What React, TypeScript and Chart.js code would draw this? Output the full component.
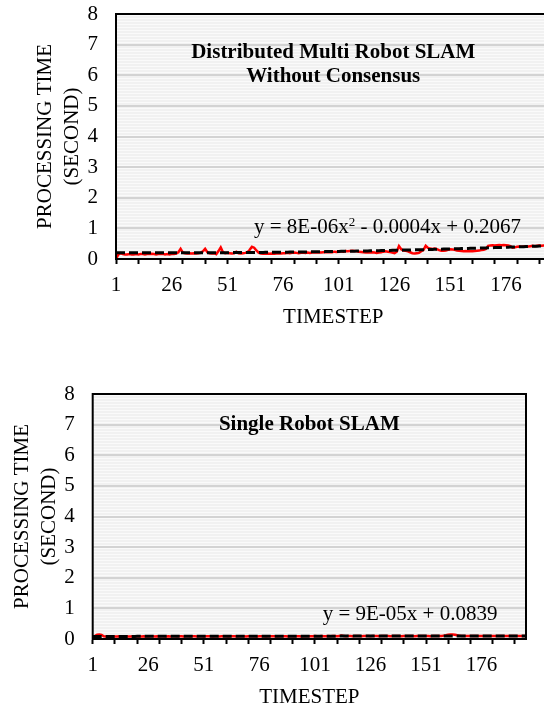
import { useEffect, useRef } from 'react';
import { Chart, registerables } from 'chart.js';

Chart.register(...registerables);

// Timestep categories (1..196) shared by both panels
const timesteps: string[] = Array.from({ length: 196 }, (_, i) => String(i + 1));

// Processing time per timestep (seconds)
const multiRobotTime: number[] = [
  0.00, 0.14, 0.19, 0.16, 0.15, 0.15, 0.16, 0.15, 0.15, 0.16, 0.15, 0.16, 0.16, 0.15, 0.16, 0.16, 0.17, 0.16, 0.15, 0.16,
  0.16, 0.17, 0.15, 0.16, 0.15, 0.16, 0.16, 0.18, 0.22, 0.33, 0.21, 0.19, 0.18, 0.19, 0.18, 0.19, 0.18, 0.19, 0.20, 0.25,
  0.33, 0.22, 0.19, 0.18, 0.19, 0.16, 0.26, 0.38, 0.22, 0.19, 0.20, 0.19, 0.18, 0.19, 0.24, 0.19, 0.18, 0.19, 0.20, 0.22,
  0.30, 0.40, 0.37, 0.28, 0.21, 0.18, 0.17, 0.17, 0.18, 0.17, 0.18, 0.17, 0.18, 0.19, 0.18, 0.19, 0.19, 0.20, 0.19, 0.20,
  0.21, 0.20, 0.19, 0.20, 0.21, 0.20, 0.21, 0.20, 0.21, 0.22, 0.21, 0.22, 0.21, 0.22, 0.23, 0.22, 0.23, 0.22, 0.24, 0.23,
  0.24, 0.25, 0.24, 0.26, 0.25, 0.26, 0.27, 0.26, 0.25, 0.24, 0.23, 0.22, 0.21, 0.22, 0.21, 0.22, 0.21, 0.20, 0.21, 0.22,
  0.24, 0.25, 0.24, 0.23, 0.21, 0.19, 0.24, 0.42, 0.32, 0.28, 0.27, 0.25, 0.22, 0.19, 0.18, 0.19, 0.20, 0.25, 0.30, 0.43,
  0.36, 0.34, 0.33, 0.34, 0.32, 0.29, 0.27, 0.27, 0.28, 0.30, 0.32, 0.31, 0.30, 0.28, 0.27, 0.26, 0.25, 0.26, 0.25, 0.26,
  0.25, 0.26, 0.27, 0.28, 0.29, 0.30, 0.33, 0.43, 0.44, 0.45, 0.44, 0.45, 0.46, 0.45, 0.46, 0.45, 0.44, 0.42, 0.37, 0.38,
  0.40, 0.41, 0.40, 0.41, 0.42, 0.41, 0.42, 0.43, 0.42, 0.43, 0.44, 0.43, 0.44, 0.45, 0.44, 0.45,
];

const singleRobotTime: number[] = [
  0.01, 0.10, 0.14, 0.15, 0.13, 0.09, 0.08, 0.09, 0.08, 0.09, 0.08, 0.08, 0.09, 0.08, 0.08, 0.09, 0.08, 0.08, 0.09, 0.08,
  0.08, 0.09, 0.08, 0.09, 0.08, 0.08, 0.09, 0.09, 0.08, 0.09, 0.08, 0.09, 0.09, 0.08, 0.09, 0.08, 0.09, 0.09, 0.08, 0.09,
  0.09, 0.08, 0.09, 0.09, 0.08, 0.09, 0.09, 0.08, 0.09, 0.09, 0.08, 0.09, 0.09, 0.09, 0.08, 0.09, 0.09, 0.08, 0.09, 0.09,
  0.09, 0.08, 0.09, 0.09, 0.09, 0.08, 0.09, 0.09, 0.09, 0.08, 0.09, 0.09, 0.09, 0.09, 0.08, 0.09, 0.09, 0.09, 0.08, 0.09,
  0.09, 0.09, 0.09, 0.08, 0.09, 0.09, 0.09, 0.09, 0.08, 0.09, 0.09, 0.09, 0.09, 0.09, 0.08, 0.09, 0.09, 0.09, 0.09, 0.09,
  0.10, 0.09, 0.09, 0.10, 0.09, 0.09, 0.10, 0.09, 0.10, 0.10, 0.09, 0.10, 0.11, 0.10, 0.09, 0.10, 0.10, 0.09, 0.10, 0.10,
  0.10, 0.09, 0.10, 0.10, 0.10, 0.09, 0.10, 0.10, 0.10, 0.09, 0.10, 0.10, 0.10, 0.10, 0.09, 0.10, 0.10, 0.10, 0.10, 0.09,
  0.10, 0.10, 0.10, 0.10, 0.10, 0.09, 0.10, 0.10, 0.10, 0.10, 0.10, 0.10, 0.09, 0.10, 0.10, 0.10, 0.10, 0.10, 0.11, 0.12,
  0.14, 0.15, 0.15, 0.14, 0.12, 0.11, 0.10, 0.10, 0.10, 0.10, 0.10, 0.10, 0.10, 0.10, 0.10, 0.10, 0.10, 0.10, 0.10, 0.10,
  0.10, 0.10, 0.10, 0.10, 0.10, 0.10, 0.10, 0.10, 0.10, 0.10, 0.10, 0.10, 0.10, 0.10, 0.10, 0.10,
];

// Fitted trend coefficients, highest power first (x = timestep index)
const multiRobotFit: number[] = [8e-6, -0.0004, 0.2067];
const singleRobotFit: number[] = [9e-5, 0.0839];

const yAxisTitle: string[] = ['PROCESSING TIME', '(SECOND)'];
const xAxisTitle = 'TIMESTEP';

const FONT = "'Liberation Serif', 'Times New Roman', serif";

const evalPoly = (coeffs: number[], x: number) =>
  coeffs.reduce((acc, c) => acc * x + c, 0);

type EqPart = { text: string; sup?: boolean };

interface PanelSetup {
  top: number;
  width: number;
  height: number;
  padLeft: number;
  padRight: number;
  padTop: number;
  xAxisHeight: number;
  xTitlePad: number;
  values: number[];
  fit: number[];
  titleLines: string[];
  titleBaselines: number[];
  equation: EqPart[];
  eqDx: number;
  eqDy: number;
}

const makeDecor = (p: PanelSetup) => ({
  id: 'panelDecor',
  beforeDraw(chart: Chart) {
    const { ctx, chartArea: a } = chart;
    ctx.save();
    ctx.fillStyle = '#f1f1f1';
    ctx.fillRect(a.left, a.top, a.right - a.left, a.bottom - a.top);
    ctx.fillStyle = '#fafafa';
    for (let y = a.top + 1; y < a.bottom; y += 3) {
      ctx.fillRect(a.left, y, a.right - a.left, 1);
    }
    ctx.restore();
  },
  afterDatasetsDraw(chart: Chart) {
    const { ctx, chartArea: a } = chart;
    ctx.save();
    // plot frame
    ctx.strokeStyle = '#000';
    ctx.lineWidth = 2;
    ctx.strokeRect(a.left, a.top, a.right - a.left, a.bottom - a.top);

    // panel title inside the plot
    ctx.fillStyle = '#000';
    ctx.textAlign = 'center';
    ctx.textBaseline = 'alphabetic';
    ctx.font = `bold 21px ${FONT}`;
    const cx = (a.left + a.right) / 2;
    p.titleLines.forEach((line, i) => ctx.fillText(line, cx, a.top + p.titleBaselines[i]));

    // trendline equation
    ctx.textAlign = 'left';
    let x = a.left + p.eqDx;
    const base = a.top + p.eqDy;
    for (const part of p.equation) {
      ctx.font = part.sup ? `13px ${FONT}` : `21px ${FONT}`;
      ctx.fillText(part.text, x, part.sup ? base - 7 : base);
      x += ctx.measureText(part.text).width;
    }
    ctx.restore();
  },
});

const buildConfig = (p: PanelSetup): any => {
  const trend = timesteps.map((_, i) => evalPoly(p.fit, i + 1));
  return {
    type: 'line',
    data: {
      labels: timesteps,
      datasets: [
        {
          label: 'Trend',
          data: trend,
          borderColor: '#000',
          borderWidth: 3,
          borderDash: [9, 4],
          pointRadius: 0,
          tension: 0,
        },
        {
          label: 'Processing time',
          data: p.values,
          borderColor: '#ff0000',
          borderWidth: 2.5,
          pointRadius: 0,
          tension: 0,
        },
      ],
    },
    options: {
      animation: false,
      responsive: false,
      devicePixelRatio: 1,
      layout: { padding: { left: p.padLeft, right: p.padRight, top: p.padTop, bottom: 0 } },
      plugins: {
        legend: { display: false },
        tooltip: { enabled: false },
        title: { display: false },
      },
      scales: {
        x: {
          type: 'category',
          offset: false,
          grid: {
            drawOnChartArea: false,
            drawTicks: true,
            tickLength: 5,
            tickWidth: 2,
            tickColor: (ctx: any) => (ctx.index % 10 === 0 ? '#000' : 'rgba(0,0,0,0)'),
          },
          border: { display: true, color: '#000', width: 2 },
          ticks: {
            autoSkip: false,
            maxRotation: 0,
            minRotation: 0,
            padding: 9,
            color: '#000',
            font: { family: FONT, size: 21 },
            callback: (_v: any, i: number) => (i % 25 === 0 ? timesteps[i] : ''),
          },
          title: {
            display: true,
            text: xAxisTitle,
            color: '#000',
            font: { family: FONT, size: 21, lineHeight: 1 },
            padding: { top: 0, bottom: p.xTitlePad },
          },
          afterFit: (s: any) => {
            s.height = p.xAxisHeight;
            s.paddingLeft = 0;
            s.paddingRight = 0;
          },
        },
        y: {
          min: 0,
          max: 8,
          ticks: {
            stepSize: 1,
            padding: 18,
            color: '#000',
            font: { family: FONT, size: 21 },
          },
          grid: { drawTicks: false, color: '#d3d3d3', lineWidth: 2 },
          border: { display: false },
          title: {
            display: true,
            text: yAxisTitle,
            color: '#000',
            font: { family: FONT, size: 21, lineHeight: 1.29 },
            padding: { top: 9, bottom: 0 },
          },
          afterFit: (s: any) => {
            s.width = 92.7;
            s.paddingTop = 0;
            s.paddingBottom = 0;
          },
        },
      },
    },
    plugins: [makeDecor(p)],
  };
};

const panels: PanelSetup[] = [
  {
    top: 0,
    width: 560,
    height: 330,
    padLeft: 23.3,
    padRight: 9.5,
    padTop: 14,
    xAxisHeight: 71,
    xTitlePad: 2,
    values: multiRobotTime,
    fit: multiRobotFit,
    titleLines: ['Distributed Multi Robot SLAM', 'Without Consensus'],
    titleBaselines: [43.5, 68],
    equation: [
      { text: 'y = 8E-06x' },
      { text: '2', sup: true },
      { text: ' - 0.0004x + 0.2067' },
    ],
    eqDx: 138,
    eqDy: 219,
  },
  {
    top: 330,
    width: 544,
    height: 378,
    padLeft: 0,
    padRight: 18,
    padTop: 64,
    xAxisHeight: 69,
    xTitlePad: 0,
    values: singleRobotTime,
    fit: singleRobotFit,
    titleLines: ['Single Robot SLAM'],
    titleBaselines: [35.5],
    equation: [{ text: 'y = 9E-05x + 0.0839' }],
    eqDx: 230,
    eqDy: 226,
  },
];

function Panel({ setup }: { setup: PanelSetup }) {
  const ref = useRef<HTMLCanvasElement>(null);
  useEffect(() => {
    if (!ref.current) return;
    const chart = new Chart(ref.current, buildConfig(setup));
    return () => chart.destroy();
  }, [setup]);
  return (
    <canvas
      ref={ref}
      width={setup.width}
      height={setup.height}
      style={{
        position: 'absolute',
        left: 0,
        top: setup.top,
        width: setup.width,
        height: setup.height,
        display: 'block',
      }}
    />
  );
}

export default function App() {
  return (
    <div
      style={{
        position: 'absolute',
        left: 0,
        top: 0,
        width: 544,
        height: 708,
        overflow: 'hidden',
        background: '#fff',
      }}
    >
      {panels.map((p, i) => (
        <Panel key={i} setup={p} />
      ))}
    </div>
  );
}
